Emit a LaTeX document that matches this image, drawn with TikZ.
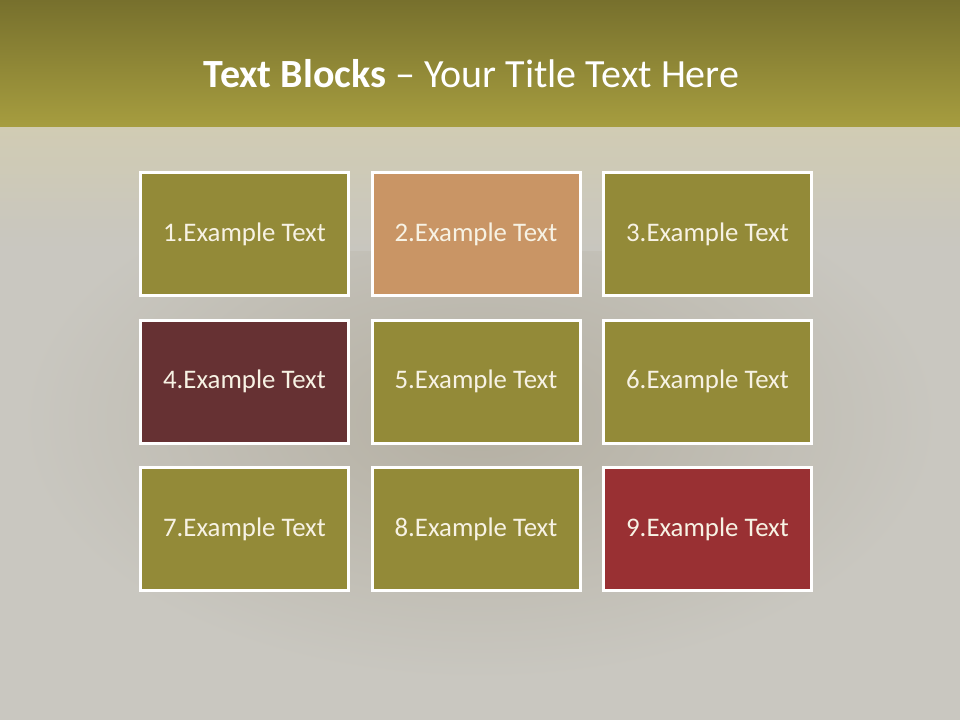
\documentclass[tikz,border=0pt]{standalone}
\usepackage{fontspec}
\setmainfont{Carlito}
\definecolor{bandtop}{HTML}{77702D}
\definecolor{bandbot}{HTML}{A69D3F}
\definecolor{haze}{HTML}{D2CDB2}
\definecolor{floor}{HTML}{C9C7C0}
\definecolor{dusk}{HTML}{B4AFA2}
\definecolor{olive}{HTML}{938A38}
\definecolor{tan}{HTML}{C99565}
\definecolor{maroon}{HTML}{663133}
\definecolor{brick}{HTML}{993033}
\definecolor{cream}{HTML}{F7F2E4}
\begin{document}
\begin{tikzpicture}[
        x=1pt, y=-1pt,
        block/.style={rectangle, draw=white, line width=3pt, minimum width=208pt, minimum height=123pt, text=cream, font=\fontsize{26.8}{30}\selectfont},
        title/.style={anchor=base, text=white, font=\fontsize{40}{44}\selectfont}
    ]
        \useasboundingbox (0,0) rectangle (960,720);
        % === Background ===
        \fill[floor] (0,0) rectangle (960,720);
        \shade[inner color=dusk, outer color=floor] (480,420) ellipse (460 and 260);
        \shade[top color=haze, bottom color=floor, opacity=0.9] (0,125) rectangle (960,250);
        \shade[top color=bandtop, bottom color=bandbot] (0,0) rectangle (960,126);

        % === Title ===
        \node[title] (T) at (471.5,87) {\textbf{Text Blocks} -- Your Title Text Here};

        % === Row 1 ===
        \node[block, fill=olive] (B1) at (244.5,234) {1.Example Text};
        \node[block, fill=tan] (B2) at (476,234) {2.Example Text};
        \node[block, fill=olive] (B3) at (707.5,234) {3.Example Text};

        % === Row 2 ===
        \node[block, fill=maroon] (B4) at (244.5,381.5) {4.Example Text};
        \node[block, fill=olive] (B5) at (476,381.5) {5.Example Text};
        \node[block, fill=olive] (B6) at (707.5,381.5) {6.Example Text};

        % === Row 3 ===
        \node[block, fill=olive] (B7) at (244.5,529) {7.Example Text};
        \node[block, fill=olive] (B8) at (476,529) {8.Example Text};
        \node[block, fill=brick] (B9) at (707.5,529) {9.Example Text};
    \end{tikzpicture}
\end{document}
